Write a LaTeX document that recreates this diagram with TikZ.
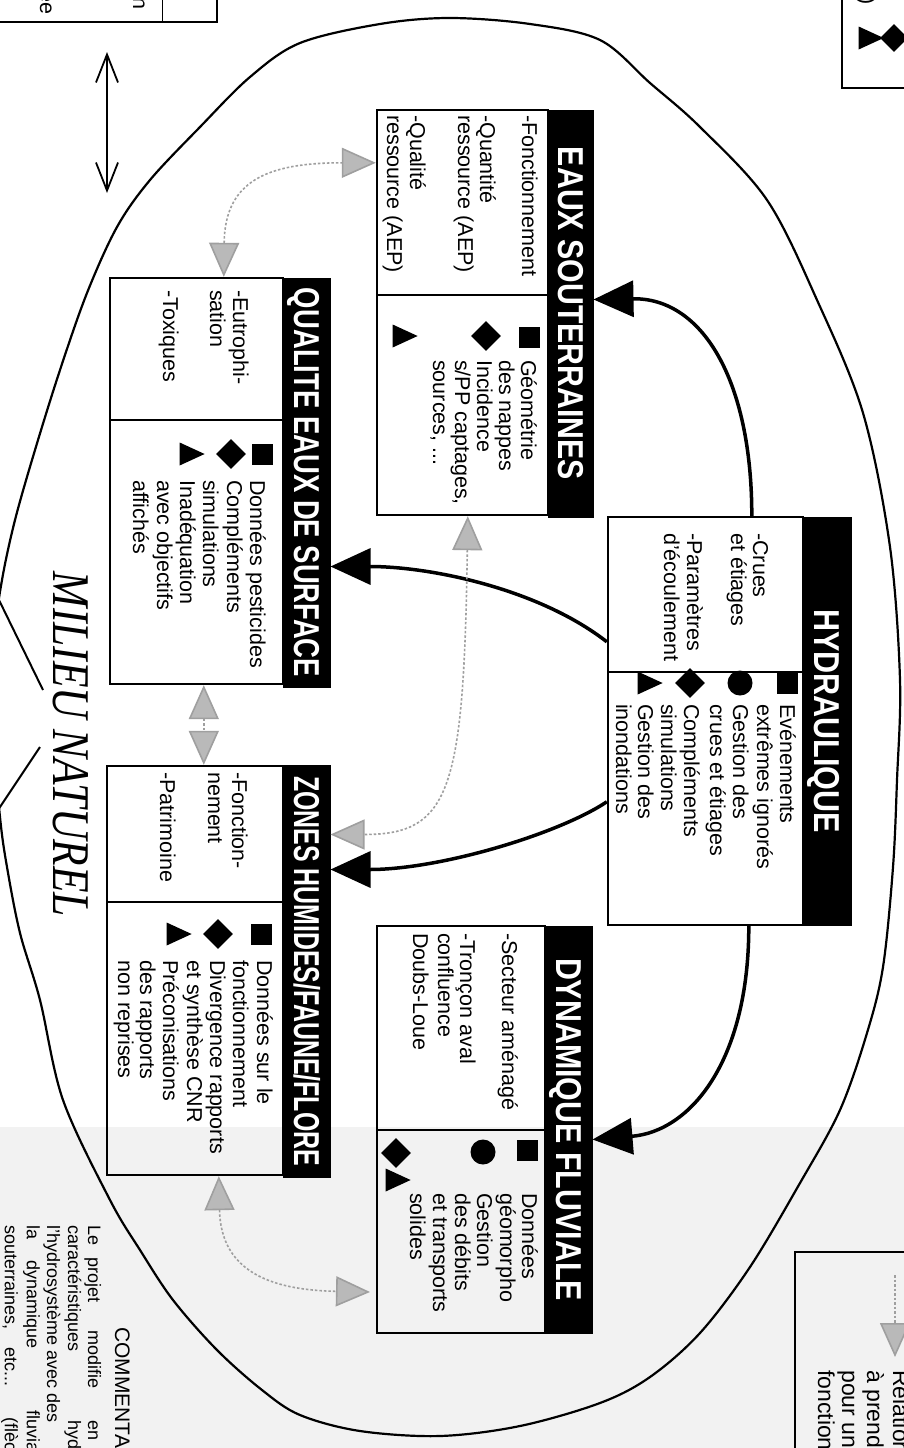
\documentclass[tikz,border=0pt]{standalone}
\usepackage{fontspec}
\usepackage{graphicx}
\setmainfont{Liberation Sans}
\newfontfamily\hdrfont{Liberation Sans}
\newfontfamily\milfont{Liberation Serif}
\usetikzlibrary{calc,arrows.meta,shapes.geometric,fit}
\newcommand\bodyfont{\fontsize{21.5}{23}\selectfont}
\newcommand\hdrsize{\fontsize{36}{36}\selectfont}
\newcommand\putline[4]{\node[tl] (#1) at (#2,#3) {#4};}
\newcommand\putcm[4]{\node[cmtext] (#1) at (#2,#3) {#4};}
\tikzset{
  bx/.style={draw, line width=2.4pt, inner sep=0pt},
  hdr/.style={draw, fill=black, line width=1pt, inner sep=0pt},
  ttl/.style={rotate=-90, anchor=base, inner sep=0pt, text=white, font=\hdrfont\bfseries\hdrsize},
  tl/.style={rotate=-90, anchor=base west, inner sep=0pt, font=\bodyfont},
  tle/.style={rotate=-90, anchor=base east, inner sep=0pt, font=\bodyfont},
  cmtext/.style={rotate=-90, anchor=base west, inner sep=0pt, font=\fontsize{18}{20}\selectfont},
  lgtext/.style={rotate=-90, anchor=base west, inner sep=0pt, font=\fontsize{23}{25}\selectfont},
  sqs/.style={rectangle, fill=black, minimum size=21pt, inner sep=0pt},
  cis/.style={circle, fill=black, minimum size=25pt, inner sep=0pt},
  dis/.style={diamond, fill=black, minimum width=30pt, minimum height=30pt, inner sep=0pt},
  trs/.style={isosceles triangle, isosceles triangle stretches, fill=black, minimum width=23pt, minimum height=25pt, inner sep=0pt},
  blk/.style={line width=3.5pt, -{Triangle[length=40pt,width=36pt]}},
  fzhead/.tip={Triangle[length=34pt,width=30pt,fill=gray!55]},
  fz/.style={draw=gray!75, line width=1.6pt, dash pattern=on 2.5pt off 2pt},
  dbl/.style={line width=1.8pt, {Straight Barb[length=28pt,width=22pt]}-{Straight Barb[length=28pt,width=22pt]}},
  thinl/.style={line width=2pt}
}
\begin{document}
\begin{tikzpicture}[x=1pt,y=-1pt]
\useasboundingbox (0,0) rectangle (904,1448);
\clip (0,0) rectangle (904,1448);
\fill[white] (0,0) rectangle (904,1448);
\fill[black!5] (0,1127) rectangle (904,1448);

% big ellipse (milieu naturel)
\draw[line width=2.2pt] plot[smooth cycle, tension=0.55] coordinates {
 (300,43) (380,24) (450,18) (530,24) (600,40) (650,83) (700,127) (767,200)
 (817,300) (863,413) (890,547) (900,680) (897,780) (893,867) (883,967)
 (867,1033) (840,1110) (800,1183) (750,1267) (700,1333) (650,1377) (600,1403)
 (520,1426) (440,1436) (360,1431) (300,1415) (262,1390) (217,1350) (173,1300)
 (140,1250) (110,1200) (63,1100) (40,1000) (20,933) (7,867) (0,817) (-8,720)
 (-6,640) (2,580) (15,520) (35,450) (60,370) (87,293) (117,227) (150,180)
 (200,127) (250,77)};

% top-left fragment
\draw[line width=2.4pt] (-5,22) -- (217,22) -- (217,-5);
\draw[line width=1pt] (162,-5) -- (162,22);
\node[tle] (tla) at (40,15) {ée};
\node[tle] (tlb) at (133,10) {n};

% top-right fragment
\draw[line width=2.4pt] (842,-5) -- (842,88) -- (910,88);
\node[tle] (tra) at (860,5) {6)};
\node[trs] (ts1) at (866,38) {};
\node[dis, minimum width=28pt, minimum height=28pt] (ts2) at (894,38) {};

% double arrow outside
\coordinate (da1) at (107,52);
\coordinate (da2) at (107,193);
\draw[dbl] (da1) -- (da2);

% HYDRAULIQUE
\node[bx, fit={(608,517) (803,672)}] (hyd1) {};
\node[bx, fit={(608,672) (803,925)}] (hyd2) {};
\node[hdr, fit={(803,517) (851,925)}] (hydH) {};
\node[ttl] (hydT) at ($(hydH.center)+(-12.5,0)$) {\resizebox{224pt}{\height}{HYDRAULIQUE}};
\putline{h1a}{753}{533}{-Crues}
\putline{h1b}{731}{533}{et étiages}
\putline{h1c}{687}{533}{-Paramètres}
\putline{h1d}{664}{533}{d'écoulement}
\putline{h2a}{780}{704}{Evénements}
\putline{h2b}{757}{704}{extrêmes ignorés}
\putline{h2c}{733}{704}{Gestion des}
\putline{h2d}{710}{704}{crues et étiages}
\putline{h2e}{684}{704}{Compléments}
\putline{h2f}{661}{704}{simulations}
\putline{h2g}{638}{704}{Gestion des}
\putline{h2h}{616}{704}{inondations}
\node[sqs] (hs1) at (787,683) {};
\node[cis] (hs2) at (740,683) {};
\node[dis] (hs3) at (690,683) {};
\node[trs] (hs4) at (645,683) {};

% EAUX SOUTERRAINES
\node[bx, fit={(377,110) (548,295)}] (eau1) {};
\node[bx, fit={(377,295) (548,515)}] (eau2) {};
\node[hdr, fit={(548,110) (593,517)}] (eauH) {};
\node[ttl] (eauT) at ($(eauH.center)+(-12.5,0)$) {\resizebox{333pt}{\height}{EAUX SOUTERRAINES}};
\putline{e1a}{522}{115}{-Fonctionnement}
\putline{e1b}{480}{115}{-Quantité}
\putline{e1c}{458}{115}{ressource (AEP)}
\putline{e1d}{410}{115}{-Qualité}
\putline{e1e}{387}{115}{ressource (AEP)}
\putline{e2a}{521}{360}{Géométrie}
\putline{e2b}{499}{360}{des nappes}
\putline{e2c}{477}{360}{Incidence}
\putline{e2d}{455}{360}{s/PP captages,}
\putline{e2e}{433}{360}{sources, ...}
\node[sqs] (es1) at (529,337) {};
\node[dis] (es2) at (486,336) {};
\node[trs] (es3) at (400,336) {};

% QUALITE EAUX DE SURFACE
\node[bx, fit={(110,278) (283,420)}] (qua1) {};
\node[bx, fit={(110,420) (283,684)}] (qua2) {};
\node[hdr, fit={(283,278) (330,687)}] (quaH) {};
\node[ttl] (quaT) at ($(quaH.center)+(-12.5,0)$) {\resizebox{389pt}{\height}{QUALITE EAUX DE SURFACE}};
\putline{q1a}{233}{290}{-Eutrophi-}
\putline{q1b}{210}{290}{sation}
\putline{q1c}{163}{290}{-Toxiques}
\putline{q2a}{250}{480}{Données pesticides}
\putline{q2b}{227}{480}{Compléments}
\putline{q2c}{203}{480}{simulations}
\putline{q2d}{180}{480}{Inadéquation}
\putline{q2e}{157}{480}{avec objectifs}
\putline{q2f}{133}{480}{affichés}
\node[sqs] (qs1) at (262,454) {};
\node[dis] (qs2) at (231,454) {};
\node[trs] (qs3) at (187,454) {};

% ZONES HUMIDES/FAUNE/FLORE
\node[bx, fit={(107,766) (283,902)}] (zon1) {};
\node[bx, fit={(107,902) (283,1175)}] (zon2) {};
\node[hdr, fit={(283,765) (330,1177)}] (zonH) {};
\node[ttl] (zonT) at ($(zonH.center)+(-12.5,0)$) {\resizebox{390pt}{\height}{ZONES HUMIDES/FAUNE/FLORE}};
\putline{z1a}{232}{772}{-Fonction-}
\putline{z1b}{208}{772}{nement}
\putline{z1c}{160}{772}{-Patrimoine}
\putline{z2a}{257}{960}{Données sur le}
\putline{z2b}{233}{960}{fonctionnement}
\putline{z2c}{210}{960}{Divergence rapports}
\putline{z2d}{187}{960}{et synthèse CNR}
\putline{z2e}{163}{960}{Préconisations}
\putline{z2f}{140}{960}{des rapports}
\putline{z2g}{118}{960}{non reprises}
\node[sqs] (zs1) at (261,934) {};
\node[dis] (zs2) at (218,934) {};
\node[trs] (zs3) at (174,934) {};

% DYNAMIQUE FLUVIALE
\node[bx, fit={(377,926) (545,1130)}] (dyn1) {};
\node[bx, fit={(377,1130) (545,1333)}] (dyn2) {};
\node[hdr, fit={(545,926) (592,1333)}] (dynH) {};
\node[ttl] (dynT) at ($(dynH.center)+(-12.5,0)$) {\resizebox{343pt}{\height}{DYNAMIQUE FLUVIALE}};
\putline{d1a}{502}{933}{-Secteur aménagé}
\putline{d1b}{460}{933}{-Tronçon aval}
\putline{d1c}{438}{933}{confluence}
\putline{d1d}{413}{933}{Doubs-Loue}
\putline{d2a}{522}{1193}{Données}
\putline{d2b}{500}{1193}{géomorpho}
\putline{d2c}{477}{1193}{Gestion}
\putline{d2d}{455}{1193}{des débits}
\putline{d2e}{433}{1193}{et transports}
\putline{d2f}{410}{1193}{solides}
\node[sqs] (ds1) at (527,1150) {};
\node[cis] (ds2) at (483,1152) {};
\node[dis] (ds3) at (396,1153) {};
\node[trs] (ds4) at (393,1180) {};

% MILIEU NATUREL
\node[rotate=-90, anchor=base east, inner sep=0pt] (milieu) at (53,917)
  {\resizebox{345pt}{\height}{\milfont\itshape\fontsize{53}{53}\selectfont MILIEU NATUREL}};
\coordinate (ml1a) at (-2,598);
\coordinate (ml1b) at (43,690);
\coordinate (ml2a) at (40,747);
\coordinate (ml2b) at (-2,810);
\draw[thinl] (ml1a) -- (ml1b);
\draw[thinl] (ml2a) -- (ml2b);

% black connectors from HYDRAULIQUE
\draw[blk] ($(hyd1.north west)+(145,0)$) .. controls +(0,-137) and +(108,-2) .. ($(eauH.north east)+(0,190)$);
\draw[blk] ($(hyd1.north west)+(0,126)$) .. controls +(-68,-53) and +(100,0) .. ($(quaH.north east)+(0,289)$);
\draw[blk] ($(hyd2.north west)+(0,131)$) .. controls +(-48,32) and +(110,0) .. ($(zonH.north east)+(0,105)$);
\draw[blk] ($(hyd2.south west)+(142,0)$) .. controls +(0,135) and +(98,-8) .. ($(dynH.north east)+(0,214)$);

% grey relations
\draw[fz, fzhead-fzhead] ($(qua1.north west)+(115,0)$) .. controls +(1,-95) and +(-110,0) .. ($(eau1.north west)+(0,54)$);
\draw[fz, fzhead-fzhead] ($(qua2.south west)+(95,0)$) -- ($(zon1.north west)+(98,0)$);
\draw[fz, fzhead-fzhead] ($(eau2.south west)+(92,0)$) .. controls +(-4,274) and +(120,0) .. ($(zonH.north east)+(0,70)$);
\coordinate (f4e) at (370,1292);
\draw[fz, fzhead-fzhead] ($(zon2.south west)+(113,0)$) .. controls +(2,95) and +(-100,-2) .. (f4e);

% bottom-right legend fragment
\draw[line width=2.4pt] (795,1455) -- (795,1252) -- (910,1252);
\coordinate (lga) at (895,1275);
\coordinate (lgb) at (895,1357);
\draw[fz, -fzhead] (lga) -- (lgb);
\node[lgtext] (lg1) at (893,1370) {Relations};
\node[lgtext] (lg2) at (867,1370) {à prendre};
\node[lgtext] (lg3) at (842,1370) {pour un};
\node[lgtext] (lg4) at (818,1370) {fonctionnement};

% commentary fragment
\node[rotate=-90, anchor=base west, inner sep=0pt, font=\fontsize{21}{23}\selectfont] (cmh) at (115,1327) {COMMENTAIRES};
\putcm{c1a}{88}{1225}{Le}
\putcm{c1b}{88}{1257}{projet}
\putcm{c1c}{88}{1330}{modifie}
\putcm{c1d}{88}{1420}{en}
\putcm{c2a}{68}{1225}{caractéristiques}
\putcm{c2b}{68}{1420}{hydrauliques}
\putcm{c3a}{47}{1225}{l'hydrosystème avec des}
\putcm{c4a}{27}{1225}{la}
\putcm{c4b}{27}{1260}{dynamique}
\putcm{c4c}{27}{1410}{fluviale}
\putcm{c5a}{5}{1225}{souterraines,}
\putcm{c5b}{5}{1347}{etc...}
\putcm{c5c}{5}{1417}{(flèches}
\end{tikzpicture}
\end{document}
